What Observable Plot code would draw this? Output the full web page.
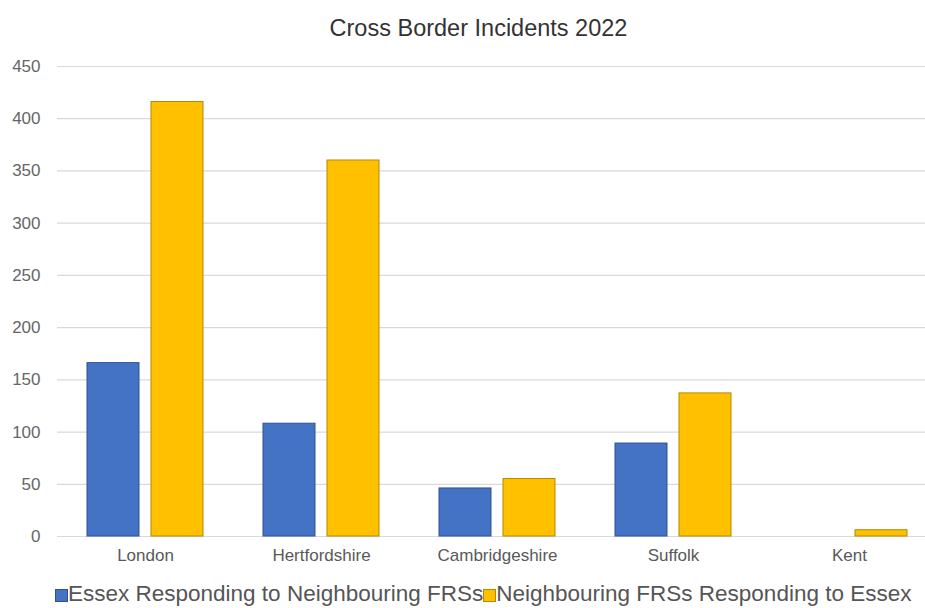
<!DOCTYPE html>
<html>
<head>
<meta charset="utf-8">
<script src="https://cdn.jsdelivr.net/npm/d3@7"></script>
<script src="https://cdn.jsdelivr.net/npm/@observablehq/plot@0.6"></script>
<style>
  html, body { margin: 0; padding: 0; background: #fff; width: 925px; height: 608px; overflow: hidden; }
  #title { height: 50px; line-height: 56px; text-align: center; padding-left: 32px; font-family: "Liberation Sans", Arial, sans-serif; font-size: 23.5px; color: #333; }
  #chart svg { display: block; overflow: hidden; }
  #legend { height: 38px; font-family: "Liberation Sans", Arial, sans-serif; font-size: 22.5px; color: #555; white-space: nowrap; padding-left: 55px; line-height: 47px; }
  .sw { display: inline-block; width: 11px; height: 11px; border: 1px solid; vertical-align: -1px; }
</style>
</head>
<body>
<div id="title">Cross Border Incidents 2022</div>
<div id="chart"></div>
<div id="legend"></div>
<script>
const regions = ["London", "Hertfordshire", "Cambridgeshire", "Suffolk", "Kent"];
const seriesNames = ["Essex Responding to Neighbouring FRSs", "Neighbouring FRSs Responding to Essex"];
const essexResponding = [166, 108, 46, 89, 0];
const neighbourResponding = [416, 360, 55, 137, 6];
const yTicks = [0, 50, 100, 150, 200, 250, 300, 350, 400, 450];
const fills = ["#4472C4", "#FFC000"];
const strokes = ["#2F528F", "#B38A00"];

const essexData = regions.map((r, i) => ({region: r, value: essexResponding[i]}));
const neighbourData = regions.map((r, i) => ({region: r, value: neighbourResponding[i]}));

const chart = Plot.plot({
  width: 925,
  height: 520,
  marginTop: 16,
  marginBottom: 34,
  marginLeft: 57,
  marginRight: -12,
  style: {fontFamily: "'Liberation Sans', Arial, sans-serif", fontSize: "16px", color: "#595959", background: "#fff"},
  x: {domain: regions, paddingInner: 0.34, paddingOuter: 0.17, label: null, axis: null},
  y: {domain: [0, 450], ticks: yTicks, label: null, axis: null},
  marks: [
    Plot.gridY(yTicks, {stroke: "#d9d9d9", strokeOpacity: 1, strokeWidth: 1.2}),
    Plot.axisY(yTicks, {tickSize: 0, tickPadding: 17, fontSize: 17, fill: "#666", label: null}),
    Plot.barY(essexData, {x: "region", y: "value", fill: fills[0], stroke: strokes[0], strokeWidth: 1, insetRight: 64}),
    Plot.barY(neighbourData, {x: "region", y: "value", fill: fills[1], stroke: strokes[1], strokeWidth: 1, insetLeft: 64}),
    Plot.axisX({anchor: "bottom", tickSize: 0, tickPadding: 12, fontSize: 17, fill: "#595959", label: null})
  ]
});
document.getElementById("chart").appendChild(chart);

const legend = document.getElementById("legend");
seriesNames.forEach((s, i) => {
  const sw = document.createElement("span");
  sw.className = "sw";
  sw.style.background = fills[i];
  sw.style.borderColor = strokes[i];
  legend.appendChild(sw);
  legend.appendChild(document.createTextNode(s));
});
</script>
</body>
</html>
